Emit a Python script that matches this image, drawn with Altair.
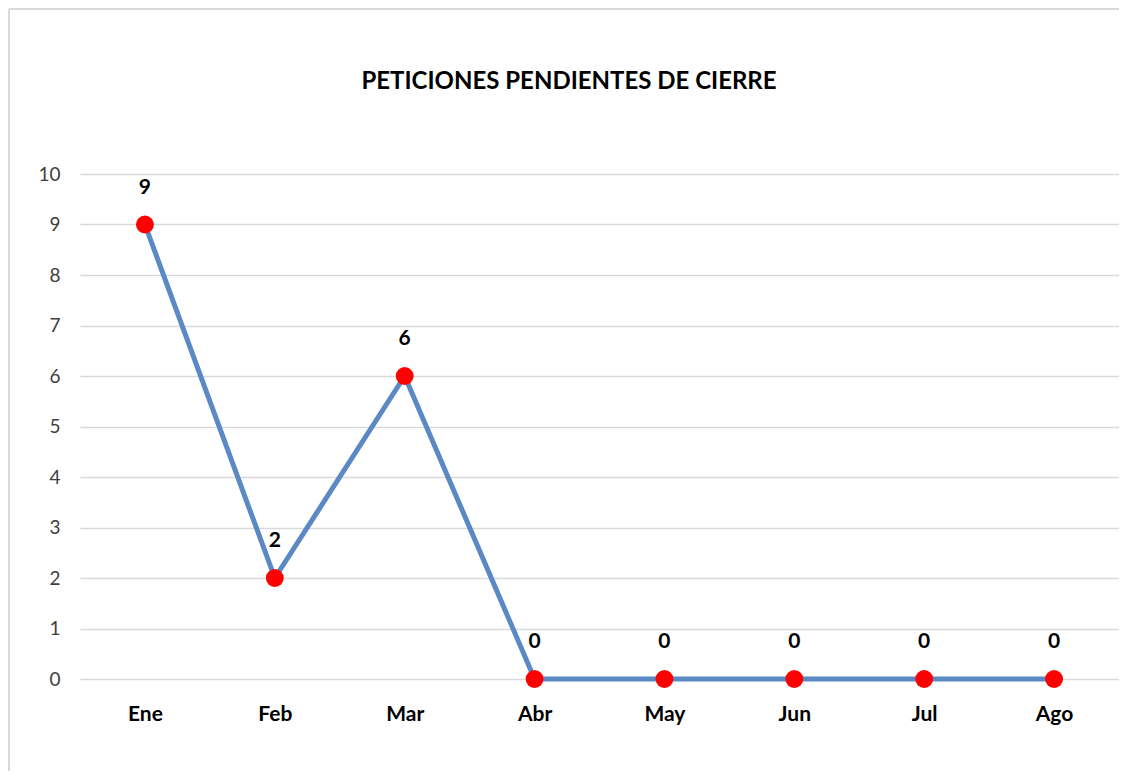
import altair as alt
import pandas as pd

meses = ["Ene", "Feb", "Mar", "Abr", "May", "Jun", "Jul", "Ago"]
valores = [9, 2, 6, 0, 0, 0, 0, 0]
y_ticks = list(range(0, 11))
titulo = "PETICIONES PENDIENTES DE CIERRE"

df = pd.DataFrame({"mes": meses, "valor": valores})

W, H = 1039, 505
FONT = "Lato"

x_enc = alt.X(
    "mes:N",
    sort=meses,
    scale=alt.Scale(type="point", padding=0.5),
    axis=alt.Axis(
        title=None, labelAngle=0, domain=False, ticks=False, grid=False,
        labelFont=FONT, labelFontSize=21, labelFontWeight="bold",
        labelColor="#000000", labelPadding=24,
    ),
)
y_enc = alt.Y(
    "valor:Q",
    scale=alt.Scale(domain=[0, 10], nice=False),
    axis=alt.Axis(
        title=None, values=y_ticks, domain=False, ticks=False, grid=True,
        gridColor="#d9d9d9", gridWidth=1.5,
        labelFont=FONT, labelFontSize=19, labelColor="#404040", labelPadding=20,
    ),
)

base = alt.Chart(df)

single = alt.Chart(pd.DataFrame({"t": [titulo]}))

border_left = single.mark_rule(color="#d9d9d9", strokeWidth=2).encode(
    x=alt.value(-71), y=alt.value(-165), y2=alt.value(H + 300),
)
border_top = single.mark_rule(color="#d9d9d9", strokeWidth=2).encode(
    y=alt.value(-165), x=alt.value(-71), x2=alt.value(W + 200),
)

title_text = single.mark_text(
    font=FONT, fontSize=24, fontWeight="bold", color="#000000",
    align="center", baseline="middle",
).encode(x=alt.value(489), y=alt.value(-92), text="t:N")

line = base.mark_line(color="#5a89c4", strokeWidth=5).encode(x=x_enc, y=y_enc)
points = base.mark_circle(color="#ff0000", opacity=1, size=320).encode(x=x_enc, y=y_enc)
labels = base.mark_text(
    font=FONT, fontSize=21, fontWeight="bold", color="#000000",
    dy=-37, baseline="middle", align="center",
).encode(x=x_enc, y=y_enc, text="valor:Q")

chart = alt.layer(border_left, border_top, title_text, line, points, labels).properties(
    width=W, height=H,
    padding={"left": 72, "top": 166, "right": 0, "bottom": 92},
    autosize=alt.AutoSizeParams(type="none"),
).configure_view(stroke=None)

chart.save("out.html", embed_options={"renderer": "svg", "actions": False})
